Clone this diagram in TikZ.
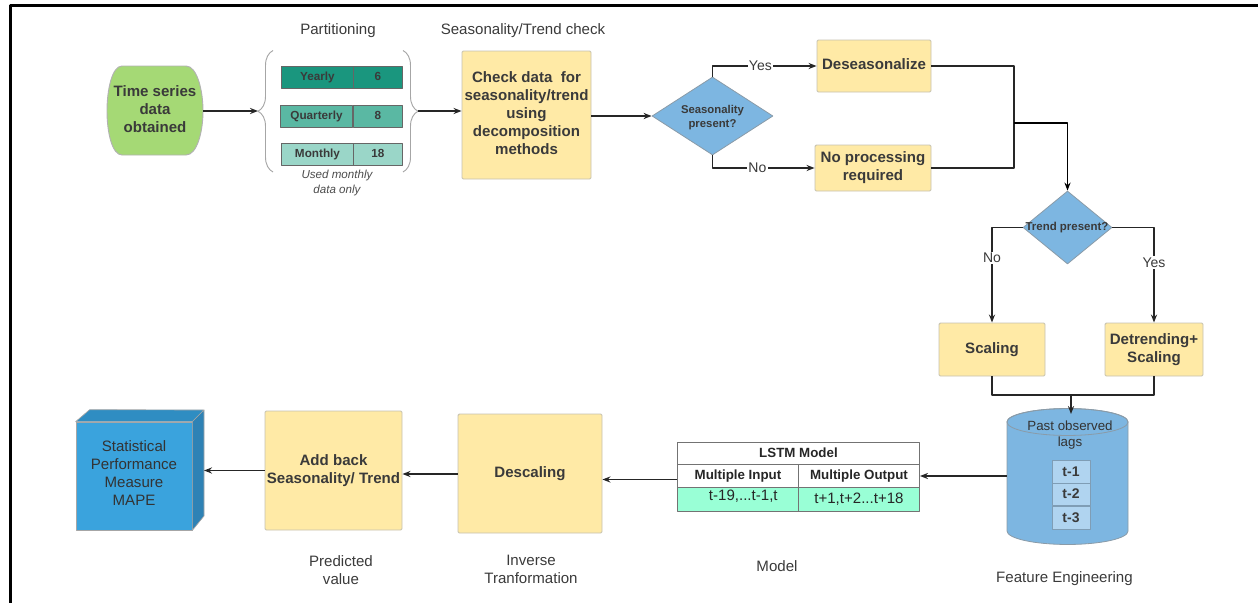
\documentclass[tikz,border=0pt]{standalone}
\usepackage{fontspec}
\setmainfont{Liberation Sans}
\usetikzlibrary{arrows.meta,shapes.geometric,decorations.pathreplacing}
\definecolor{inkgray}{HTML}{3A3A3A}
\definecolor{boxfill}{HTML}{FFEAA6}
\definecolor{boxedge}{HTML}{C6C2B0}
\definecolor{deciblue}{HTML}{7DB6E1}
\definecolor{deciedge}{HTML}{8A9BA8}
\definecolor{lagedge}{HTML}{7F9DB5}
\definecolor{startgreen}{HTML}{A5D975}
\definecolor{yearlyteal}{HTML}{1A967E}
\definecolor{quarterteal}{HTML}{5AB8A3}
\definecolor{monthteal}{HTML}{9AD6C8}
\definecolor{lagblue}{HTML}{B0D4F0}
\definecolor{mint}{HTML}{99FFD6}
\definecolor{cubefront}{HTML}{3AA3DD}
\definecolor{cubetop}{HTML}{2F8DC2}
\definecolor{cubeside}{HTML}{2E82B5}
\begin{document}
\begin{tikzpicture}[x=0.75pt, y=-0.75pt, font=\fontsize{11.3}{13.5}\selectfont, line join=round, >={Stealth[length=6pt,width=4.6pt]},
		conn/.style={draw=black!85, line width=1.1pt},
		procbox/.style={draw=boxedge, fill=boxfill, line width=0.7pt, rounded corners=1pt, inner sep=0pt, align=center, text=inkgray, font=\fontsize{11.3}{13.5}\selectfont\bfseries},
		decibox/.style={diamond, draw=deciedge, fill=deciblue, line width=0.6pt, inner sep=0pt, align=center, text=inkgray, font=\fontsize{8.5}{10.5}\selectfont\bfseries},
		partcell/.style={draw=black!60, line width=0.7pt, inner sep=0pt, minimum height=16.5pt, text=inkgray, font=\fontsize{8.8}{10}\selectfont\bfseries},
		tablecell/.style={draw=black!55, line width=0.7pt, inner sep=0pt, text=black!85, anchor=north west},
		caption/.style={align=center, text=inkgray},
		yesno/.style={fill=white, inner sep=1pt, text=inkgray, font=\fontsize{10.5}{12}\selectfont}]
		\useasboundingbox (0,0) rectangle (1258,603);
		\draw[line width=2.25pt] (10,603)--(10,5.5)--(1258,5.5);
		% top row
		\fill[startgreen, draw=black!30, line width=0.7pt] (122,66)--(186,66) .. controls (197,66) and (203,90) .. (203,111) .. controls (203,132) and (197,155) .. (186,155)--(122,155) .. controls (112,155) and (107,132) .. (107,111) .. controls (107,90) and (112,66) .. (122,66)--cycle;
		\node[minimum width=72pt, minimum height=66.75pt, inner sep=0pt, align=center, text=inkgray, font=\fontsize{11.3}{13.5}\selectfont\bfseries, text depth=3pt] (obtained) at (155,111) {Time series\\data\\obtained};
		\node[caption] (partcap) at (338,31) {Partitioning};
		\node[caption] (checkcap) at (523,31) {Seasonality/Trend check};
		\coordinate (lbrace) at (258,111);
		\coordinate (rbrace) at (418,111);
		\draw[decorate, decoration={brace, amplitude=11.25pt, aspect=0.5}, draw=black!35, line width=0.7pt] (273,172)--(273,50.5);
		\draw[decorate, decoration={brace, amplitude=11.25pt, aspect=0.5}, draw=black!35, line width=0.7pt] (403,50.5)--(403,172);
		\foreach \nm/\txt/\val/\col/\yy/\xx in {yearly/Yearly/6/yearlyteal/77/281, quarterly/Quarterly/8/quarterteal/116/280, monthly/Monthly/18/monthteal/154/281}{
			\node[partcell, fill=\col, minimum width=54pt, anchor=west] (\nm) at (\xx,\yy) {\raisebox{1pt}{\txt}};
			\node[partcell, fill=\col, minimum width=36.75pt, anchor=west] (\nm val) at (353,\yy) {\raisebox{1pt}{\val}};
		}
		\node[caption, text=black!70, font=\fontsize{8.7}{10.5}\selectfont\itshape] (monthlynote) at (337,183) {Used monthly\\data only};
		\node[procbox, minimum width=96.75pt, minimum height=96pt, text depth=3pt] (check) at (526.5,115) {Check data~~for\\seasonality/trend\\using\\decomposition\\methods};
		\node[decibox, minimum width=90.75pt, minimum height=58.5pt, aspect=1.55] (season) at (712.5,116) {\rule{0pt}{9pt}Seasonality\\present?};
		\node[procbox, minimum width=85.5pt, minimum height=39pt] (deseason) at (874,66) {\raisebox{2.5pt}{Deseasonalize}};
		\node[procbox, minimum width=87pt, minimum height=34.5pt] (noproc) at (873,168) {No processing\\required};
		\coordinate (merge) at (1014,123);
		\node[decibox, minimum width=66.75pt, minimum height=54.75pt, aspect=1.22] (trend) at (1067.5,227.5) {};
		\node[inner sep=0pt, text=inkgray, font=\fontsize{8.6}{10.5}\selectfont\bfseries] (trendtext) at (1067,228) {Trend present?};
		\node[procbox, minimum width=79.5pt, minimum height=39.75pt] (scaling) at (992,349.5) {\raisebox{1pt}{Scaling}};
		\node[procbox, minimum width=73.5pt, minimum height=39.75pt] (detrend) at (1154,349.5) {Detrending+\\Scaling};
		\coordinate (join) at (1071,395);
		% feature store
		\fill[deciblue, draw=deciedge, line width=0.6pt] (1007,422)--(1007,531) arc[start angle=180, end angle=360, x radius=45.4pt, y radius=10.1pt]--(1128,422) arc[start angle=0, end angle=180, x radius=45.4pt, y radius=10.1pt]--cycle;
		\draw[deciedge, line width=0.6pt] (1067.5,422) ellipse[x radius=45.4pt, y radius=10.1pt];
		\node[minimum width=90.75pt, minimum height=102.75pt, inner sep=0pt] (store) at (1067.5,476.5) {};
		\node[align=center, inner sep=0pt, text=black!80, font=\fontsize{10}{12}\selectfont] (pastlags) at (1070,435) {Past observed\\lags};
		\foreach \k/\yy in {1/472,2/494.5,3/518}{
			\node[draw=lagedge, fill=lagblue, line width=0.7pt, minimum width=28.5pt, minimum height=17pt, inner sep=0pt, text=inkgray, font=\fontsize{10.5}{12}\selectfont\bfseries] (lag\k) at (1071,\yy) {\raisebox{1pt}{t-\k}};
		}
		% model table
		\node[tablecell, fill=white, minimum width=181.5pt, minimum height=16.5pt, font=\fontsize{10}{12}\selectfont\bfseries] (lstm) at (677,442) {\raisebox{1pt}{LSTM Model}};
		\node[tablecell, fill=white, minimum width=90.75pt, minimum height=17.25pt, font=\fontsize{10}{12}\selectfont\bfseries] (inhead) at (677,464) {Multiple Input};
		\node[tablecell, fill=white, minimum width=90.75pt, minimum height=17.25pt, font=\fontsize{10}{12}\selectfont\bfseries] (outhead) at (798,464) {Multiple Output};
		\node[tablecell, fill=mint, minimum width=90.75pt, minimum height=18pt] (inlags) at (677,487) {\hspace*{8pt}\raisebox{6pt}{t-19,...t-1,t}};
		\node[tablecell, fill=mint, minimum width=90.75pt, minimum height=18pt] (outlags) at (798,487) {\raisebox{1pt}{t+1,t+2...t+18}};
		\coordinate (lstmright) at (920,476);
		\coordinate (lstmleft) at (677,479.5);
		% bottom row
		\node[procbox, minimum width=108pt, minimum height=89.25pt, text depth=2.5pt] (descale) at (530,473.5) {Descaling};
		\node[procbox, minimum width=102.75pt, minimum height=89.25pt, text depth=2.25pt] (addback) at (333.5,470.5) {Add back\\Seasonality/ Trend};
		\node[fill=cubefront, draw=black!35, line width=0.5pt, minimum width=87pt, minimum height=81pt, inner sep=0pt, align=center, text=black!80, text depth=4.5pt] (mape) at (134,476) {Statistical\\Performance\\Measure\\MAPE};
		\fill[cubetop, draw=black!35, line width=0.5pt] (mape.north west)--++(14,-12)--(204,410)--(mape.north east)--cycle;
		\fill[cubeside, draw=black!35, line width=0.5pt] (mape.north east)--(204,410)--(204,516)--(mape.south east)--cycle;
		\coordinate (cubeface) at (204,470.5);
		\node[caption] (predcap) at (341,570) {Predicted\\value};
		\node[caption] (invcap) at (531,569) {Inverse\\Tranformation};
		\node[caption] (modelcap) at (777,566) {Model};
		\node[caption] (featcap) at (1064.5,578.5) {Feature Engineering};
		% connectors
		\draw[conn,->] (obtained.east)--(lbrace);
		\draw[conn,->] (rbrace)--(check.west |- rbrace);
		\draw[conn,->] (check.east |- season.west)--(season.west);
		\draw[conn,->] (season.north) |- node[yesno, pos=0.73] (yeslabel) {Yes} (deseason.west);
		\draw[conn,->] (season.south) |- node[yesno, pos=0.72] (nolabel) {No} (noproc.west);
		\draw[conn] (deseason.east) -| (merge);
		\draw[conn] (noproc.east) -| (merge);
		\draw[conn,draw=black,line width=1.25pt,->] (merge) -| (trend.north);
		\draw[conn,->] (trend.west) -| node[yesno, pos=0.66] (trendno) {No} (scaling.north);
		\draw[conn,->] (trend.east) -| node[yesno, pos=0.684] (trendyes) {Yes} (detrend.north);
		\draw[conn] (scaling.south) |- (join);
		\draw[conn] (detrend.south) |- (join);
		\draw[conn,->] (join)--(join |- 0,414);
		\draw[conn,->] (store.west |- lstmright)--(lstmright);
		\draw[conn,->] (lstmleft)--(descale.east |- lstmleft);
		\draw[conn,->] (descale.west |- 0,474)--(addback.east |- 0,474);
		\draw[conn,->] (addback.west)--(cubeface);
\end{tikzpicture}
\end{document}
